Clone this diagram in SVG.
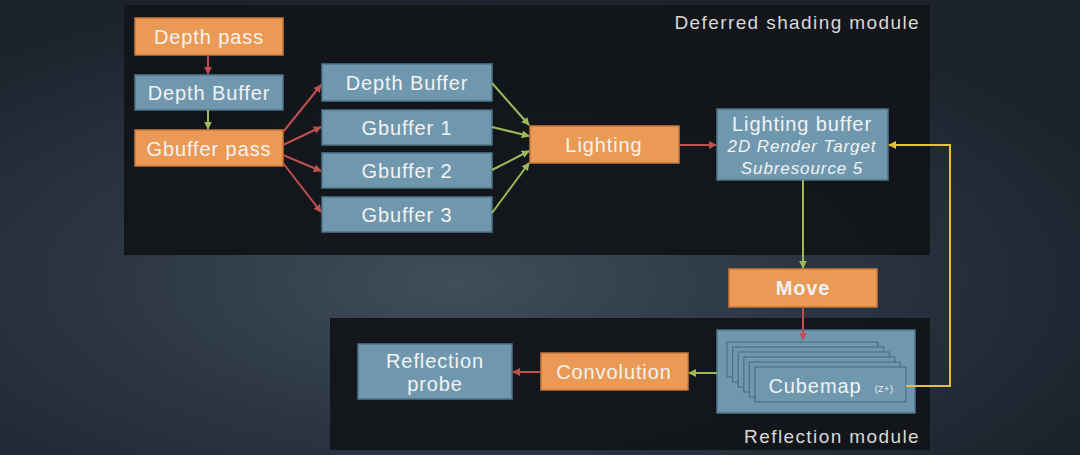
<svg xmlns="http://www.w3.org/2000/svg" width="1080" height="455" viewBox="0 0 1080 455">
<defs>
<radialGradient id="bg" cx="0.42" cy="0.62" r="0.65">
<stop offset="0" stop-color="#404d5b"/>
<stop offset="0.5" stop-color="#2c3643"/>
<stop offset="1" stop-color="#1c232d"/>
</radialGradient>
<marker id="aR" viewBox="0 0 10 10" refX="9" refY="5" markerWidth="4" markerHeight="4" orient="auto"><path d="M0,0 L10,5 L0,10 z" fill="#c0504d"/></marker>
<marker id="aG" viewBox="0 0 10 10" refX="9" refY="5" markerWidth="4" markerHeight="4" orient="auto"><path d="M0,0 L10,5 L0,10 z" fill="#9bbb59"/></marker>
<marker id="aY" viewBox="0 0 10 10" refX="9" refY="5" markerWidth="4" markerHeight="4" orient="auto"><path d="M0,0 L10,5 L0,10 z" fill="#e3c23a"/></marker>
<style>
text{font-family:"Liberation Sans",Arial,sans-serif;fill:#f2f2f2;text-anchor:middle;letter-spacing:0.9px}
.o{fill:#eb9a56;stroke:#c9783a;stroke-width:1.5}
.b{fill:#6f98ae;stroke:#4e7589;stroke-width:1.5}
.t{font-size:20px}
.it{font-size:17px;font-style:italic}
.lbl{font-size:19px;fill:#d8d8d8;text-anchor:end;letter-spacing:1.4px}
.r{stroke:#c0504d;stroke-width:2;fill:none;marker-end:url(#aR)}
.g{stroke:#9bbb59;stroke-width:2;fill:none;marker-end:url(#aG)}
.y{stroke:#e3c23a;stroke-width:2;fill:none;marker-end:url(#aY)}
.card{fill:#6f98ae;stroke:#4a6f82;stroke-width:1.2}
</style>
</defs>
<rect width="1080" height="455" fill="url(#bg)"/>
<rect x="124" y="5" width="806" height="250" fill="#111419" opacity="0.93"/>
<rect x="330" y="318" width="600" height="132" fill="#111419" opacity="0.93"/>
<text class="lbl" x="920" y="29">Deferred shading module</text>
<text class="lbl" x="920" y="443">Reflection module</text>

<g id="depth-pass"><rect class="o" x="135" y="18" width="148" height="37"/><text class="t" x="209" y="44">Depth pass</text></g>
<g id="depth-buffer-1"><rect class="b" x="135" y="75" width="148" height="35"/><text class="t" x="209" y="100">Depth Buffer</text></g>
<g id="gbuffer-pass"><rect class="o" x="135" y="130" width="148" height="36"/><text class="t" x="209" y="156">Gbuffer pass</text></g>
<g id="depth-buffer-2"><rect class="b" x="322" y="64" width="170" height="37"/><text class="t" x="407" y="90">Depth Buffer</text></g>
<g id="gbuffer-1"><rect class="b" x="322" y="110" width="170" height="35"/><text class="t" x="407" y="135">Gbuffer 1</text></g>
<g id="gbuffer-2"><rect class="b" x="322" y="153" width="170" height="35"/><text class="t" x="407" y="178">Gbuffer 2</text></g>
<g id="gbuffer-3"><rect class="b" x="322" y="197" width="170" height="35"/><text class="t" x="407" y="222">Gbuffer 3</text></g>
<g id="lighting"><rect class="o" x="530" y="126" width="149" height="37"/><text class="t" x="604" y="152">Lighting</text></g>
<g id="lighting-buffer"><rect class="b" x="717" y="109" width="171" height="71"/>
<text class="t" x="802" y="131">Lighting buffer</text>
<text class="it" x="802" y="152">2D Render Target</text>
<text class="it" x="802" y="174">Subresource 5</text></g>
<g id="move"><rect class="o" x="729" y="269" width="148" height="38"/><text class="t" x="803" y="295" style="font-weight:bold">Move</text></g>
<g id="cubemap"><rect class="b" x="717" y="330" width="198" height="83"/>
<rect class="card" x="727" y="342" width="151" height="35"/>
<rect class="card" x="732.6" y="347" width="151" height="35"/>
<rect class="card" x="738.2" y="352" width="151" height="35"/>
<rect class="card" x="743.8" y="357" width="151" height="35"/>
<rect class="card" x="749.4" y="362" width="151" height="35"/>
<rect class="card" x="755" y="367" width="151" height="35"/>
<text class="t" x="815" y="393">Cubemap</text>
<text x="884" y="392" style="font-size:9px;letter-spacing:0.5px">(Z+)</text></g>
<g id="convolution"><rect class="o" x="541" y="353" width="147" height="37"/><text class="t" x="614" y="379">Convolution</text></g>
<g id="reflection-probe"><rect class="b" x="358" y="344" width="154" height="55"/>
<text class="t" x="435" y="368">Reflection</text><text class="t" x="435" y="391">probe</text></g>

<g id="connectors">
<line class="r" x1="208" y1="55" x2="208" y2="74"/>
<line class="g" x1="208" y1="110" x2="208" y2="129"/>
<line class="r" x1="283" y1="132" x2="321" y2="85"/>
<line class="r" x1="283" y1="145" x2="321" y2="127"/>
<line class="r" x1="283" y1="155" x2="321" y2="171"/>
<line class="r" x1="283" y1="163" x2="321" y2="212"/>
<line class="g" x1="492" y1="83" x2="529" y2="125"/>
<line class="g" x1="492" y1="127" x2="529" y2="136"/>
<line class="g" x1="492" y1="170" x2="529" y2="151"/>
<line class="g" x1="492" y1="213" x2="529" y2="163"/>
<line class="r" x1="679" y1="145" x2="716" y2="145"/>
<line class="g" x1="803" y1="180" x2="803" y2="268"/>
<line class="r" x1="803" y1="307" x2="803" y2="340"/>
<line class="g" x1="717" y1="373" x2="689" y2="373"/>
<line class="r" x1="541" y1="372" x2="513" y2="372"/>
<polyline class="y" points="906,386 950,386 950,145 889,145"/>
</g>
</svg>
